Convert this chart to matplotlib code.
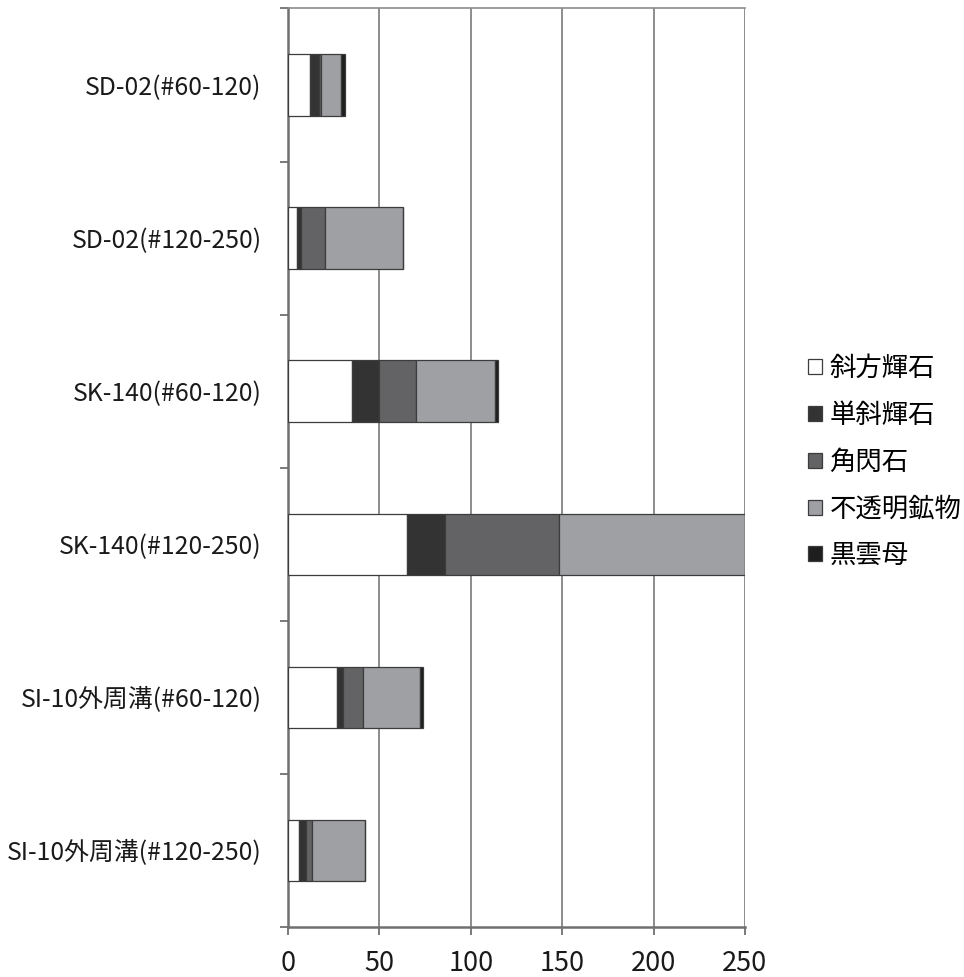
import numpy as np
import matplotlib
matplotlib.use("Agg")
import matplotlib.pyplot as plt

plt.rcParams["font.family"] = ["Noto Sans CJK JP", "DejaVu Sans"]

# ---- データ ----
samples = [
    "SD-02(#60-120)",
    "SD-02(#120-250)",
    "SK-140(#60-120)",
    "SK-140(#120-250)",
    "SI-10外周溝(#60-120)",
    "SI-10外周溝(#120-250)",
]
minerals = ["斜方輝石", "単斜輝石", "角閃石", "不透明鉱物", "黒雲母"]

opx = [12, 5, 35, 65, 27, 6]        # 斜方輝石
cpx = [5, 2, 15, 21, 3, 4]          # 単斜輝石
hbl = [1, 13, 20, 62, 11, 3]        # 角閃石
opaque = [11, 43, 43, 102, 31, 29]  # 不透明鉱物
biotite = [2, 0, 2, 0, 2, 0]        # 黒雲母

series = [opx, cpx, hbl, opaque, biotite]
colors = ["#ffffff", "#333333", "#636365", "#9fa0a3", "#1e1e1e"]

fig = plt.figure(figsize=(9.64, 9.77), dpi=100)
ax = fig.add_axes([0.2988, 0.0515, 0.4740, 0.9398])

y = np.arange(len(samples))
left = np.zeros(len(samples))
for name, vals, c in zip(minerals, series, colors):
    ax.barh(y, vals, left=left, height=0.4, color=c, edgecolor="#3c3c3c",
            linewidth=0.9, label=name, zorder=3)
    left += np.array(vals)

ax.set_xlim(0, 250)
ax.set_ylim(len(samples) - 0.5, -0.5)
ax.set_xticks(np.arange(0, 251, 50))
ax.set_yticks(y)
ax.set_yticklabels(samples)
ax.set_yticks(np.arange(-0.5, len(samples), 1.0), minor=True)

ax.grid(axis="x", color="#8c8c8c", linewidth=1.4, zorder=0)
ax.tick_params(axis="x", length=6, width=1.4, color="#7a7a7a",
               labelsize=19.5, pad=11, labelcolor="#1a1a1a")
ax.tick_params(axis="y", which="major", length=0, pad=19,
               labelsize=17.9, labelcolor="#1a1a1a")
ax.tick_params(axis="y", which="minor", length=6, width=1.4, color="#7a7a7a")

for side in ["left", "bottom"]:
    ax.spines[side].set_color("#707070")
    ax.spines[side].set_linewidth(1.8)
ax.spines["top"].set_color("#8c8c8c")
ax.spines["top"].set_linewidth(1.2)
ax.spines["right"].set_visible(False)

fig.legend(loc="center left", bbox_to_anchor=(0.825, 0.527), frameon=False,
           fontsize=19, handlelength=0.5, handleheight=0.5,
           handletextpad=0.3, labelspacing=0.75, borderpad=0)

fig.savefig("out.png", dpi=100)
